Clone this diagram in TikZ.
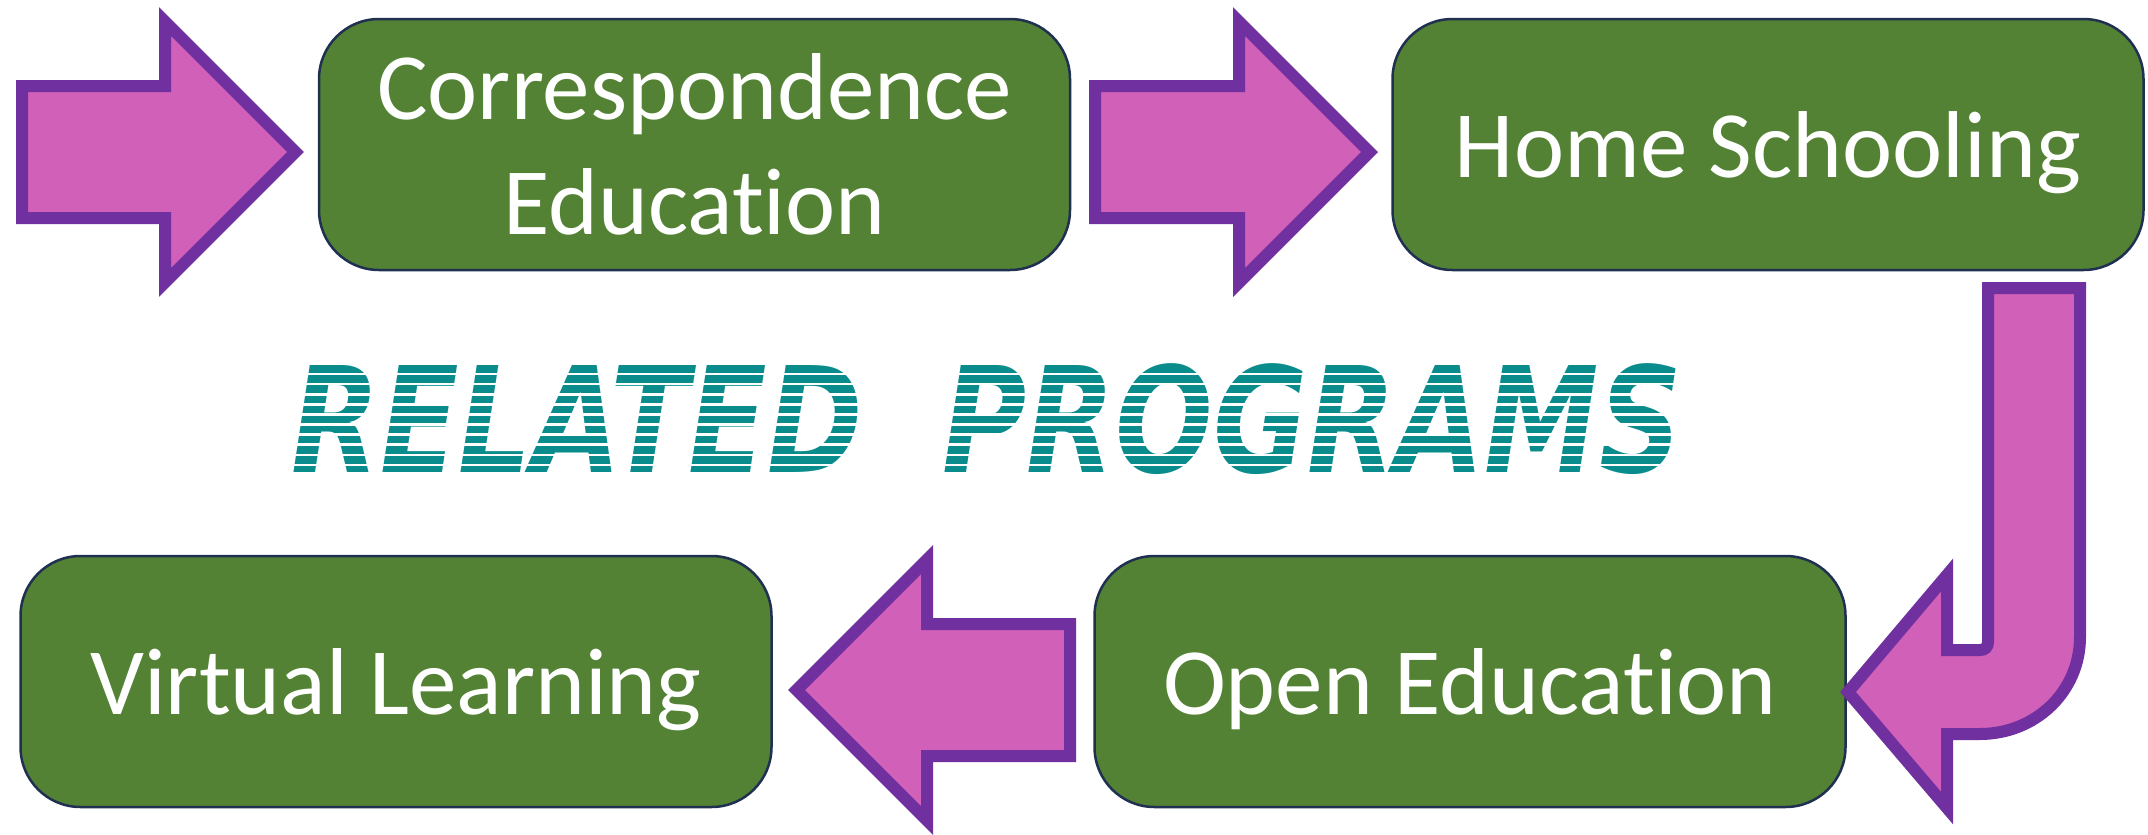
\documentclass[tikz,border=0pt]{standalone}
\usepackage{fontspec}
\setmainfont{Carlito}[Ligatures={NoCommon}]
\newfontfamily\headfont{DejaVu Sans}
\definecolor{boxgreen}{HTML}{548235}
\definecolor{boxline}{HTML}{1F3050}
\definecolor{arrowpink}{HTML}{D060B8}
\definecolor{arrowpurple}{HTML}{7030A0}
\definecolor{headteal}{HTML}{0A8C8C}
\begin{document}
\begin{tikzpicture}[x=1pt,y=-1pt,
  stepbox/.style={draw=boxline, line width=2.5pt, fill=boxgreen, rounded corners=60pt,
    minimum width=751pt, minimum height=251pt, text=white, inner sep=0pt,
    font=\fontsize{95}{115}\selectfont, align=center, text depth=0pt},
  blockarrow/.style={draw=arrowpurple, fill=arrowpink, line width=12pt, line join=miter},
  stripe/.style={white, line width=2.6pt}]
\useasboundingbox (0,0) rectangle (2148,835);

% boxes
\node[stepbox] (corr) at (694.5,144.5) {Correspondence\\Education};
\node[stepbox] (home) at (1768,144.5) {Home Schooling};
\node[stepbox] (open) at (1470,681.5) {Open Education};
\node[stepbox] (virt) at (396,681.5) {Virtual Learning};

% block arrows
\draw[blockarrow] (22,86) -- (165,86) -- (165,21.5) -- (295.5,152) -- (165,282.5) -- (165,218) -- (22,218) -- cycle;
\draw[blockarrow] (1095,86) -- (1239,86) -- (1239,21.5) -- (1369.5,152) -- (1239,282.5) -- (1239,218) -- (1095,218) -- cycle;
\draw[blockarrow] (1070,624) -- (927,624) -- (927,559.5) -- (796.5,690) -- (927,820.5) -- (927,756) -- (1070,756) -- cycle;
\draw[blockarrow] (1988,288) -- (2080,288) -- (2080,637)
  .. controls (2080,692) and (2035,734) .. (1980,734) -- (1947,734) -- (1947,808)
  -- (1848,692) -- (1947,575) -- (1947,650) -- (1980,650)
  .. controls (1985,650) and (1988,647) .. (1988,642) -- cycle;

% title
\node[inner sep=0pt, text=headteal] (title) at (987,419.5)
  {\resizebox*{1390pt}{111pt}{\headfont\bfseries\itshape RELATED\ \ PROGRAMS}};
\foreach \k in {1,...,10}{
  \draw[stripe] (280,364+\k*10.09) -- (1695,364+\k*10.09);
}
\end{tikzpicture}
\end{document}
